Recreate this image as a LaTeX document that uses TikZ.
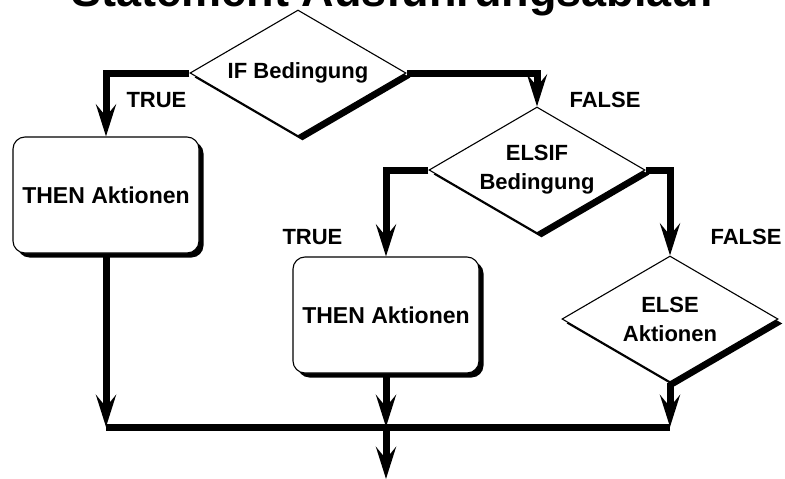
\documentclass[tikz,border=0pt]{standalone}
\usepackage{fontspec}
\setmainfont{Liberation Sans}
\usepackage{xcolor}
\usetikzlibrary{shapes.geometric, arrows.meta, shadows, calc}

\begin{document}
\begin{tikzpicture}[
        x=1pt, y=-1pt,
        font=\bfseries,
        flow_line/.style={draw=black, line width=7pt, -{Stealth[length=32pt, width=20pt, inset=12pt]}},
        bus_line/.style={draw=black, line width=7pt},
        hard_shadow/.style={drop shadow={shadow xshift=4.5pt, shadow yshift=-4.5pt, fill=black, opacity=1}},
        decision/.style={
            diamond, aspect=1.7,
            draw=black, line width=1.1pt, fill=white,
            minimum width=216pt, minimum height=126pt,
            inner sep=0pt, align=center,
            font=\fontsize{22}{29}\selectfont\bfseries,
            hard_shadow
        },
        action/.style={
            rectangle,
            rounded corners=12pt,
            draw=black, line width=1.1pt, fill=white,
            minimum width=186pt, minimum height=116pt,
            align=center,
            font=\fontsize{23}{29}\selectfont\bfseries,
            hard_shadow
        },
        branch_label/.style={anchor=west, font=\fontsize{22}{22}\selectfont\bfseries}
    ]

    \useasboundingbox (0, 0) rectangle (785, 479);

    % Title (cut off at the top)
    \node[anchor=base, font=\fontsize{45}{45}\selectfont\bfseries] (title) at (393, 6) {Statement Ausführungsablauf};

    % Decisions
    \node[decision] (if_cond) at (298, 73) {IF Bedingung};
    \node[decision] (elsif_cond) at (537, 170) {ELSIF\\Bedingung};
    \node[decision] (else_act) at (670, 319) {ELSE\\Aktionen};

    % Actions
    \node[action] (then_a) at (106, 195) {THEN Aktionen};
    \node[action] (then_b) at (386, 315) {THEN Aktionen};

    % Branch labels
    \node[branch_label] (true_a) at (123, 100) {TRUE};
    \node[branch_label] (false_a) at (566, 100) {FALSE};
    \node[branch_label] (true_b) at (279, 237) {TRUE};
    \node[branch_label] (false_b) at (707, 237) {FALSE};

    % Branches
    \draw[flow_line] (if_cond.west) -| (then_a.north);
    \draw[flow_line] (if_cond.east) -| (elsif_cond.north);
    \draw[flow_line] (elsif_cond.west) -| (then_b.north);
    \draw[flow_line] (elsif_cond.east) -| (else_act.north);

    % Merge
    \coordinate (bus_left) at (106, 427);
    \coordinate (merge) at (386, 427);
    \coordinate (bus_right) at (670, 427);
    \coordinate (exit) at (386, 479);
    \draw[bus_line] (bus_left) -- (bus_right);
    \draw[flow_line] (then_a.south) -- (bus_left);
    \draw[flow_line] (then_b.south) -- (merge);
    \draw[flow_line] (else_act.south) -- (bus_right);
    \draw[flow_line] (merge) -- (exit);

\end{tikzpicture}
\end{document}
